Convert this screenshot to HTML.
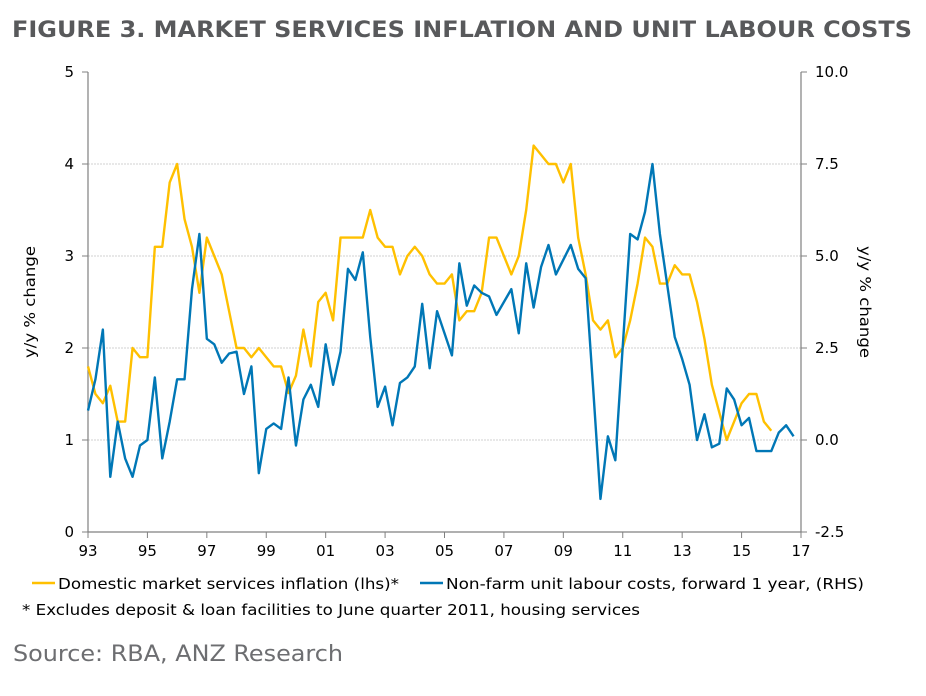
<!DOCTYPE html>
<html><head><meta charset="utf-8"><style>
body{margin:0;background:#fff;width:926px;height:692px;overflow:hidden;font-family:"DejaVu Sans","Liberation Sans",sans-serif}
</style></head><body>
<svg width="926" height="692" font-family="DejaVu Sans, Liberation Sans, sans-serif">
<text x="12" y="37" font-size="22" font-weight="bold" fill="#58595b" textLength="900" lengthAdjust="spacingAndGlyphs">FIGURE 3. MARKET SERVICES INFLATION AND UNIT LABOUR COSTS</text>
<g id="grid"></g>
<g id="axes"></g>
<g id="series"></g>
<text transform="translate(35,302) rotate(-90)" text-anchor="middle" font-size="15" fill="#000" textLength="112" lengthAdjust="spacingAndGlyphs">y/y % change</text>
<text transform="translate(860,302) rotate(90)" text-anchor="middle" font-size="15" fill="#000" textLength="112" lengthAdjust="spacingAndGlyphs">y/y % change</text>
<g>
<line x1="32" y1="583" x2="55" y2="583" stroke="#FFC000" stroke-width="2.4"/>
<text x="58" y="589" font-size="15" textLength="341" lengthAdjust="spacingAndGlyphs">Domestic market services inflation (lhs)*</text>
<line x1="420" y1="583" x2="443" y2="583" stroke="#0077B6" stroke-width="2.4"/>
<text x="446" y="589" font-size="15" textLength="418" lengthAdjust="spacingAndGlyphs">Non-farm unit labour costs, forward 1 year, (RHS)</text>
</g>
<text x="22" y="615" font-size="15" textLength="618" lengthAdjust="spacingAndGlyphs">* Excludes deposit &amp; loan facilities to June quarter 2011, housing services</text>
<text x="13" y="661" font-size="22" fill="#6d6e71" textLength="330" lengthAdjust="spacingAndGlyphs">Source: RBA, ANZ Research</text>
</svg>
<script>
const inflation=[1.8,1.5,1.4,1.59,1.2,1.2,2.0,1.9,1.9,3.1,3.1,3.8,4.0,3.4,3.1,2.6,3.2,3.0,2.8,2.4,2.0,2.0,1.9,2.0,1.9,1.8,1.8,1.51,1.7,2.2,1.8,2.5,2.6,2.3,3.2,3.2,3.2,3.2,3.5,3.2,3.1,3.1,2.8,3.0,3.1,3.0,2.8,2.7,2.7,2.8,2.3,2.4,2.4,2.6,3.2,3.2,3.0,2.8,3.0,3.5,4.2,4.1,4.0,4.0,3.8,4.0,3.2,2.8,2.3,2.2,2.3,1.9,2.0,2.3,2.7,3.2,3.1,2.7,2.7,2.9,2.8,2.8,2.5,2.1,1.6,1.3,1.0,1.2,1.4,1.5,1.5,1.2,1.1];
const ulc=[0.8,1.65,3.0,-1.0,0.5,-0.5,-1.0,-0.15,0,1.7,-0.5,0.5,1.65,1.65,4.1,5.6,2.75,2.6,2.1,2.35,2.4,1.25,2.0,-0.9,0.3,0.45,0.3,1.7,-0.15,1.1,1.5,0.9,2.6,1.5,2.4,4.65,4.35,5.1,2.8,0.9,1.45,0.4,1.55,1.7,2.0,3.7,1.95,3.5,2.9,2.3,4.8,3.65,4.2,4.0,3.9,3.4,3.75,4.1,2.9,4.8,3.6,4.7,5.3,4.5,4.9,5.3,4.65,4.4,1.45,-1.6,0.1,-0.55,2.55,5.6,5.45,6.2,7.5,5.6,4.2,2.8,2.2,1.5,0,0.7,-0.2,-0.1,1.4,1.1,0.4,0.6,-0.3,-0.3,-0.3,0.2,0.4,0.1];
const xTickLabels=["93","95","97","99","01","03","05","07","09","11","13","15","17"];
const leftTicks=[0,1,2,3,4,5];
const rightTicks=["-2.5","0.0","2.5","5.0","7.5","10.0"];
const X0=88,X1=801,YT=72,YB=532,startYear=1993,endYear=2017;
const x=t=>X0+(t-startYear)/(endYear-startYear)*(X1-X0);
const xq=i=>x(startYear+i/4);
const yL=v=>YB-v/5*(YB-YT);
const yR=v=>YB-(v+2.5)/12.5*(YB-YT);
const NS="http://www.w3.org/2000/svg";
function mk(tag,attrs,parent,txt){const e=document.createElementNS(NS,tag);for(const k in attrs)e.setAttribute(k,attrs[k]);if(txt!==undefined)e.textContent=txt;parent.appendChild(e);return e;}
const grid=document.getElementById('grid'),axes=document.getElementById('axes'),ser=document.getElementById('series');
leftTicks.forEach((v,i)=>{
  if(v>0&&v<5){const g=mk('line',{x1:X0,x2:X1,y1:yL(v),y2:yL(v),stroke:'#d0d0d0','stroke-dasharray':'2,1'},grid);
  
  }
  const t=mk('line',{x1:X0-6,x2:X0,y1:yL(v),y2:yL(v),stroke:'#808080'},axes);
  
  
  const l=mk('text',{x:X0-14,y:yL(v)+5,'text-anchor':'end','font-size':15},axes,String(v));
  
  
  const t2=mk('line',{x1:X1,x2:X1+6,y1:yL(v),y2:yL(v),stroke:'#808080'},axes);
  
  
  const r=mk('text',{x:X1+14,y:yL(v)+5,'font-size':15},axes,rightTicks[i]);
  
  
});
const a1=mk('line',{x1:X0,x2:X0,y1:YT,y2:YB,stroke:'#808080','stroke-width':1.2},axes);


const a2=mk('line',{x1:X1,x2:X1,y1:YT,y2:YB,stroke:'#808080','stroke-width':1.2},axes);


const a3=mk('line',{x1:X0,x2:X1,y1:YB,y2:YB,stroke:'#808080','stroke-width':1.2},axes);


xTickLabels.forEach((s,i)=>{
  const xx=x(startYear+2*i);
  const t=mk('line',{x1:xx,x2:xx,y1:YB,y2:YB+6,stroke:'#808080'},axes);
  
  
  const l=mk('text',{x:xx,y:YB+24,'text-anchor':'middle','font-size':15},axes,s);
  
  
});
const p1=mk('polyline',{points:inflation.map((v,i)=>xq(i)+','+yL(v)).join(' '),fill:'none',stroke:'#FFC000','stroke-width':2.4,'stroke-linejoin':'round'},ser);


const p2=mk('polyline',{points:ulc.map((v,i)=>xq(i)+','+yR(v)).join(' '),fill:'none',stroke:'#0077B6','stroke-width':2.4,'stroke-linejoin':'round'},ser);


</script>
</body></html>
